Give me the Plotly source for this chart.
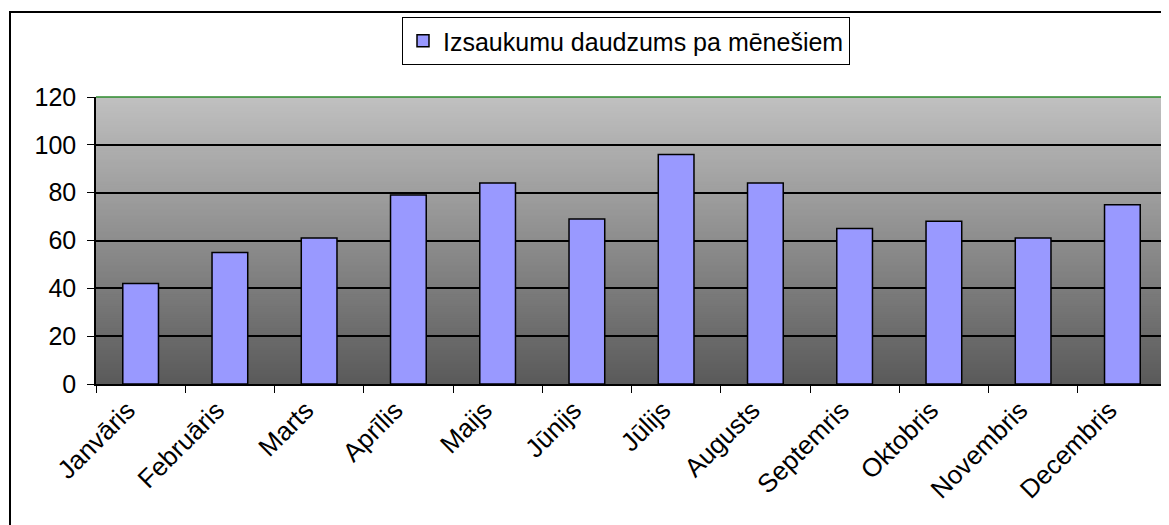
import plotly.graph_objects as go

months = ["Janvāris", "Februāris", "Marts", "Aprīlis", "Maijs", "Jūnijs",
          "Jūlijs", "Augusts", "Septemris", "Oktobris", "Novembris", "Decembris"]
calls = [42, 55, 61, 79, 84, 69, 96, 84, 65, 68, 61, 75]
series_name = "Izsaukumu daudzums pa mēnešiem"
y_ticks = [0, 20, 40, 60, 80, 100, 120]

# page body has an 8px margin, so figure coords = screen coords - 8
OFF = 8
W, H = 1169 - OFF, 525 - OFF
ML, MT = 96 - OFF, 97 - OFF
PLOT_R, PLOT_B = 1167 - OFF, 384 - OFF
MR = W - PLOT_R
MB = H - PLOT_B
PW = W - ML - MR
PH = H - MT - MB

fig = go.Figure()
fig.add_trace(go.Bar(
    x=months, y=calls, name=series_name,
    marker=dict(color="#9999FF", line=dict(color="black", width=1.5)),
    showlegend=True,
))

shapes = []
N = 144
top = (192, 192, 192)
bot = (90, 90, 90)
for i in range(N):
    t = i / (N - 1)
    c = tuple(round(bot[k] + (top[k] - bot[k]) * t) for k in range(3))
    shapes.append(dict(type="rect", xref="x domain", yref="y domain",
                       x0=0, x1=1, y0=i / N, y1=min(1, (i + 1.6) / N),
                       fillcolor="rgb(%d,%d,%d)" % c, line=dict(width=0),
                       layer="below"))
shapes.append(dict(type="line", xref="x domain", yref="y domain", x0=0, x1=1, y0=1, y1=1,
                   line=dict(color="#2E8B2E", width=1.5), layer="above"))
shapes.append(dict(type="line", xref="x domain", yref="y domain", x0=1, x1=1, y0=0, y1=1,
                   line=dict(color="#2E8B2E", width=1.5), layer="above"))
bx0 = (10 - OFF - ML) / PW
by1 = (PLOT_B - (12 - OFF)) / PH
shapes.append(dict(type="rect", xref="paper", yref="paper", x0=bx0, x1=1.2, y0=-1.0, y1=by1,
                   line=dict(color="black", width=2), fillcolor="rgba(0,0,0,0)", layer="above"))

fig.update_layout(
    width=W, height=H,
    margin=dict(l=ML, r=MR, t=MT, b=MB),
    paper_bgcolor="white",
    plot_bgcolor="rgba(0,0,0,0)",
    font=dict(family="Arial, Liberation Sans, sans-serif", size=20, color="black"),
    bargap=0.6,
    shapes=shapes,
    legend=dict(
        x=(402 - OFF - ML) / PW, xanchor="left",
        y=(PLOT_B - (41 - OFF)) / PH, yanchor="middle",
        bordercolor="black", borderwidth=1, bgcolor="white",
        font=dict(size=25), orientation="h",
        itemwidth=30,
    ),
    xaxis=dict(
        type="category", tickangle=-45, tickson="boundaries",
        ticks="outside", ticklen=7, tickcolor="black",
        showline=True, linecolor="black", linewidth=1.5,
        showgrid=False, tickfont=dict(size=26),
        ticklabelstandoff=-1, ticklabelshift=-13,
    ),
    yaxis=dict(
        range=[0, 120], tickvals=y_ticks, ticks="outside", ticklen=7, tickcolor="black",
        showline=True, linecolor="black", linewidth=1.5,
        showgrid=True, gridcolor="black", gridwidth=1.5,
        zeroline=False, tickfont=dict(size=25), ticklabelstandoff=6,
    ),
)

fig.write_html("out.html")
